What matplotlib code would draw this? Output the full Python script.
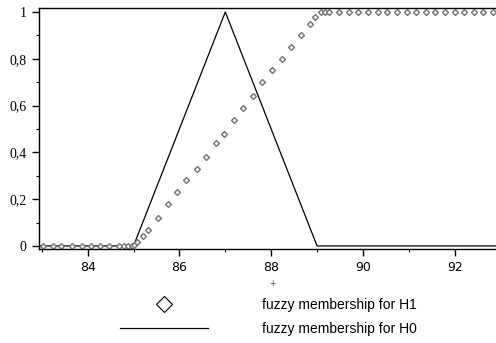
import matplotlib.pyplot as plt
from matplotlib.lines import Line2D
from matplotlib.ticker import MultipleLocator, FixedFormatter, FixedLocator

# fuzzy membership for H0 (triangle)
h0_x = [82.94, 85.0, 87.0, 89.0, 92.9]
h0_y = [0.0, 0.0, 1.0, 0.0, 0.0]

h1_x = [83.02, 83.24, 83.43, 83.66, 83.87, 84.07, 84.27, 84.47, 84.69, 84.80,
        84.89, 84.96, 85.02,
        85.08, 85.21, 85.32, 85.54, 85.75, 85.95, 86.14, 86.39, 86.58, 86.80,
        86.97, 87.19, 87.39, 87.61, 87.80, 88.02, 88.24, 88.43, 88.65, 88.84,
        88.95, 89.08, 89.17, 89.26,
        89.48, 89.70, 89.89, 90.11, 90.33, 90.52, 90.74, 90.96, 91.16, 91.37,
        91.57, 91.79, 92.01, 92.20, 92.42, 92.61, 92.83]
h1_y = [0, 0, 0, 0, 0, 0, 0, 0, 0, 0,
        0, 0, 0.005,
        0.017, 0.043, 0.068, 0.12, 0.18, 0.23, 0.28, 0.33, 0.38, 0.44,
        0.48, 0.54, 0.59, 0.64, 0.70, 0.75, 0.80, 0.85, 0.90, 0.95,
        0.98, 1, 1, 1,
        1, 1, 1, 1, 1, 1, 1, 1, 1, 1,
        1, 1, 1, 1, 1, 1, 1]

x_ticks = [84, 86, 88, 90, 92]
y_ticks = [0, 0.2, 0.4, 0.6, 0.8, 1]
y_labels = ['0', '0,2', '0,4', '0,6', '0,8', '1']
labels = ['fuzzy membership for H1', 'fuzzy membership for H0']

W, H = 496, 343
fig = plt.figure(figsize=(W / 100, H / 100), dpi=100)
ax = fig.add_axes([39 / W, 1 - 248.5 / H, 1 - 39 / W, (248.5 - 8) / H])

ax.plot(h0_x, h0_y, color='black', lw=0.9)
ax.plot(h1_x, h1_y, ls='none', marker='D', ms=3.0, mfc='white',
        mec='#707070', mew=1.0)

ax.set_xlim(82.94, 92.9)
ax.set_ylim(-0.011, 1.017)

ax.spines['right'].set_visible(False)
for s in ['left', 'bottom', 'top']:
    ax.spines[s].set_linewidth(1.0)

ax.xaxis.set_major_locator(FixedLocator(x_ticks))
ax.xaxis.set_minor_locator(MultipleLocator(1))
ax.yaxis.set_major_locator(FixedLocator(y_ticks))
ax.yaxis.set_major_formatter(FixedFormatter(y_labels))
ax.yaxis.set_minor_locator(MultipleLocator(0.1))
ax.tick_params(which='major', length=5, width=1, pad=4)
ax.tick_params(which='minor', length=2, width=0.8)
for t in ax.get_xticklabels():
    t.set_fontsize(9)
    t.set_family('DejaVu Sans')
for t in ax.get_yticklabels():
    t.set_fontsize(10)
    t.set_family('Liberation Serif')

# small mark below the 88 label
fig.text(272 / W, 1 - 283 / H, '+', fontsize=5.5, color='#444444',
         ha='center', va='center')

handles = [Line2D([], [], ls='none', marker='D', ms=8, mfc='white',
                  mec='black', mew=0.8),
           Line2D([], [], color='black', lw=0.9)]
fig.legend(handles, labels, loc='upper left',
           bbox_to_anchor=(120 / W, 1 - 298 / H), frameon=False,
           prop={'family': 'Liberation Sans', 'size': 10},
           handlelength=6.33, handletextpad=3.9, labelspacing=0.73,
           borderpad=0, borderaxespad=0, numpoints=1)

plt.savefig('out.png', dpi=100)
